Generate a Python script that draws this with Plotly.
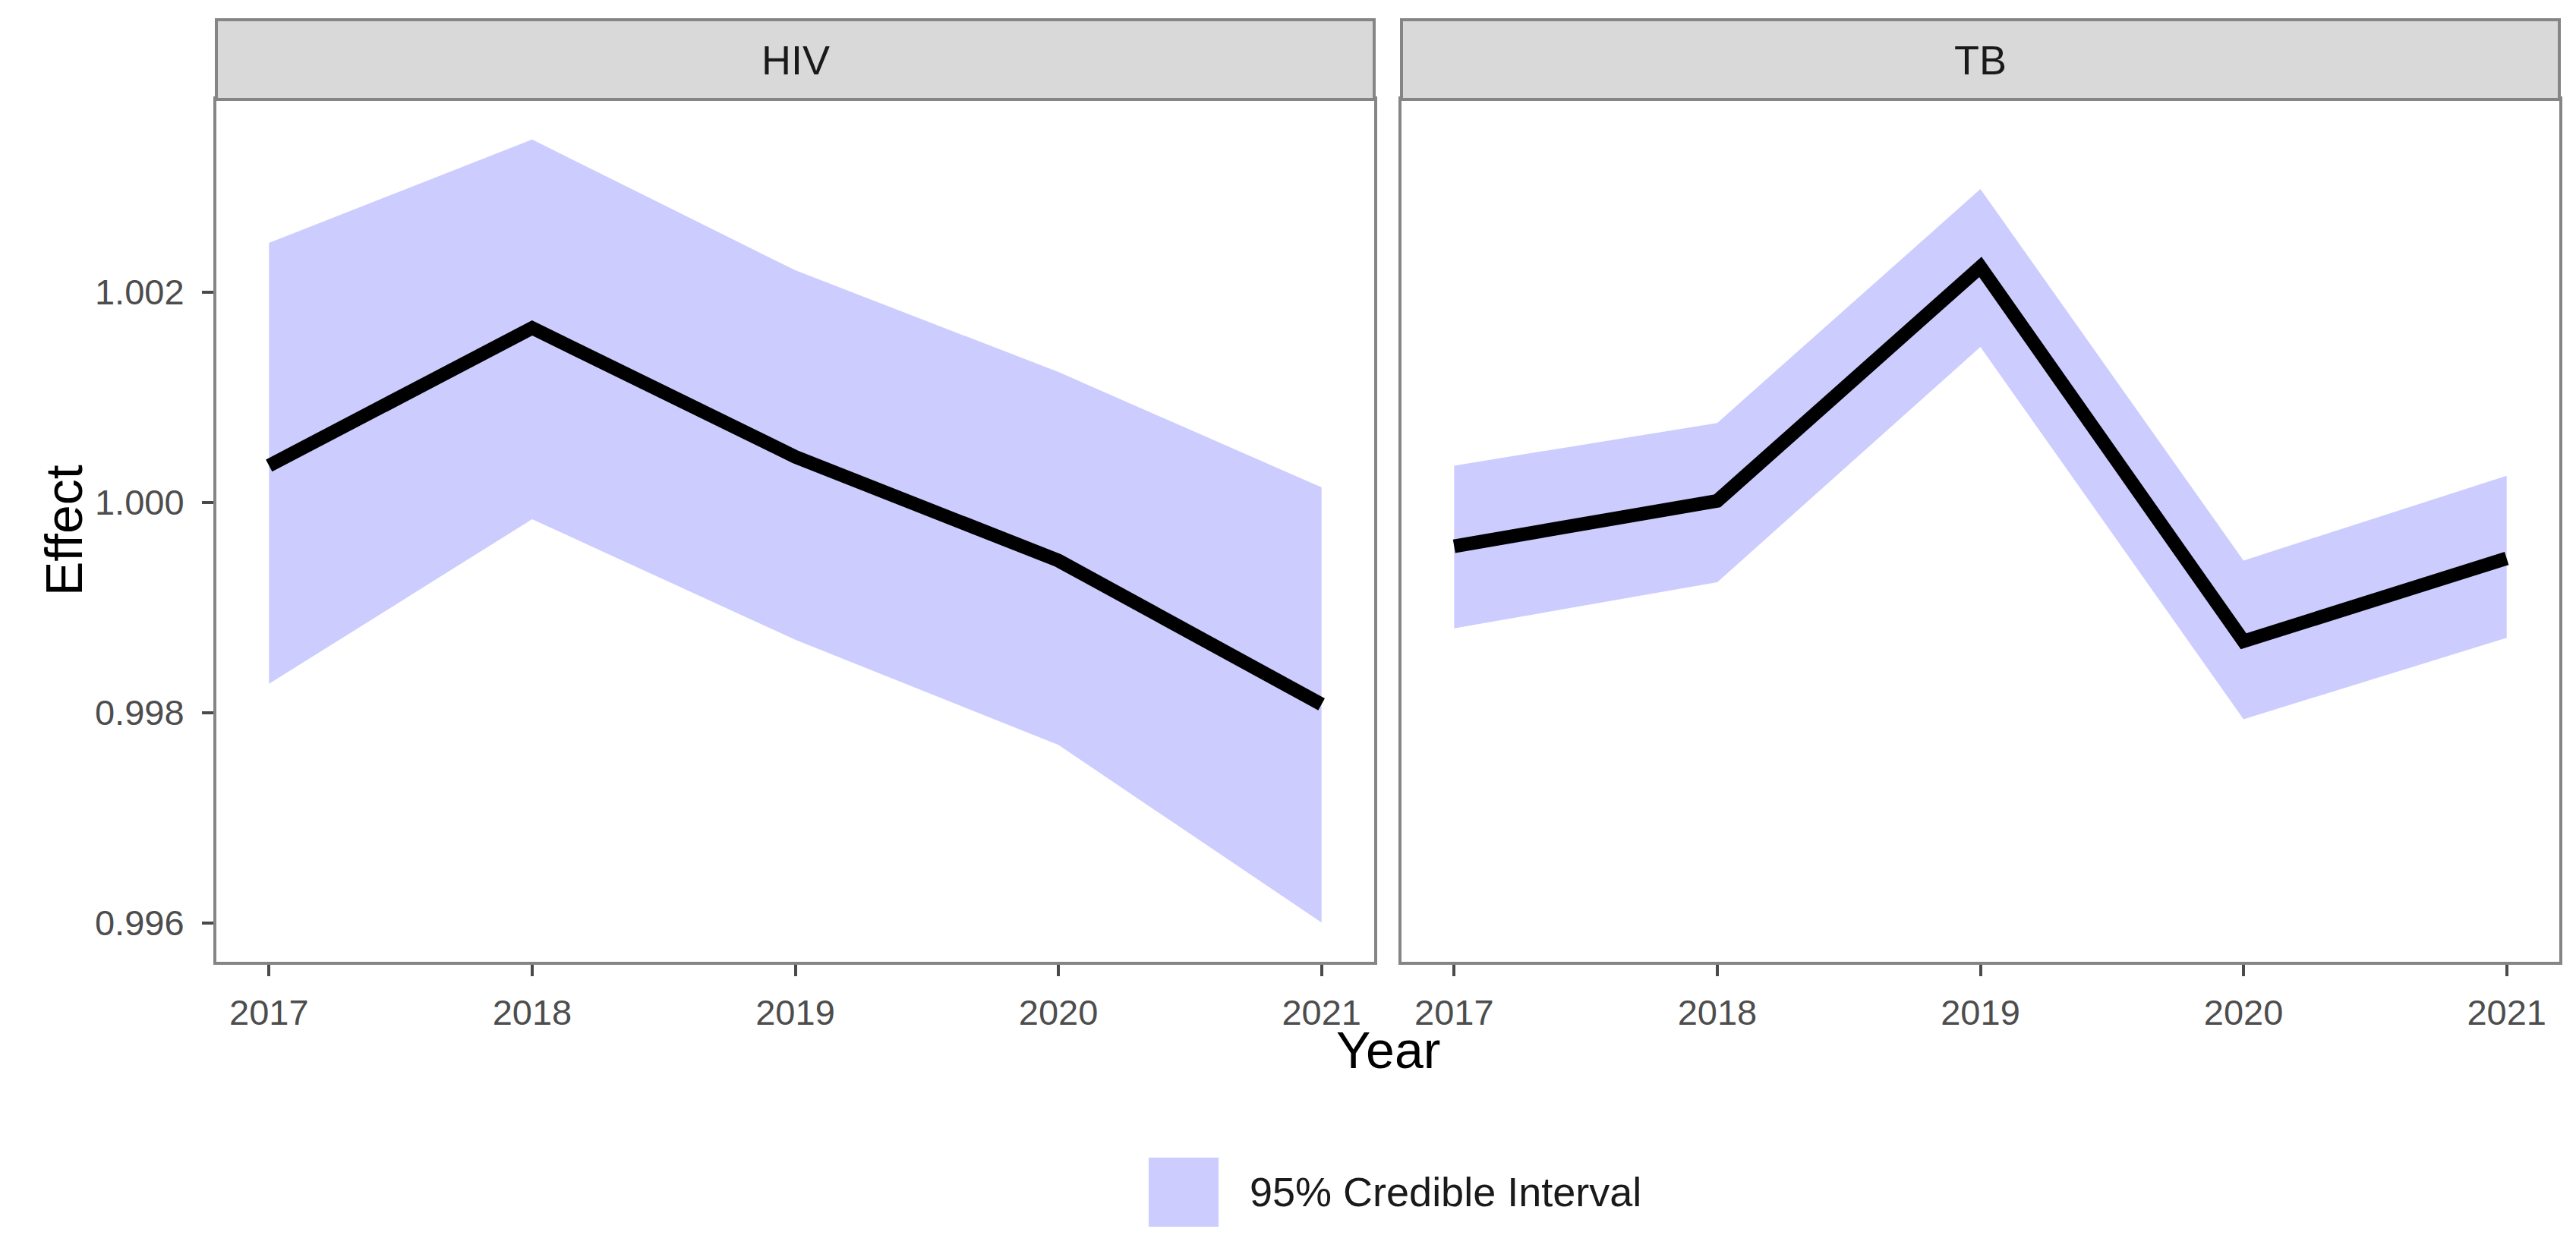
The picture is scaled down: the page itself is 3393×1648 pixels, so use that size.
import plotly.graph_objects as go

# ---- data ----
years = [2017, 2018, 2019, 2020, 2021]
panels = ["HIV", "TB"]

hiv_mean = [1.000348, 1.001657, 1.000432, 0.999445, 0.998078]
hiv_lower = [0.998273, 0.999839, 0.998692, 0.997692, 0.996003]
hiv_upper = [1.002466, 1.003449, 1.002205, 1.001238, 1.000142]

tb_mean = [0.999581, 1.000013, 1.002237, 0.998678, 0.999466]
tb_lower = [0.998801, 0.999239, 1.001476, 0.997937, 0.998711]
tb_upper = [1.000348, 1.000754, 1.002978, 0.999445, 1.000252]

y_tickvals = [0.996, 0.998, 1.000, 1.002]
y_ticktext = ["0.996", "0.998", "1.000", "1.002"]
legend_label = "95% Credible Interval"
x_title = "Year"
y_title = "Effect"

# ---- styles ----
W, H = 3393, 1648
FONT = "Liberation Sans, Arial, sans-serif"
RIBBON = "#CCCCFF"
BORDER = "#858585"
TICKC = "#4a4a4a"

dom_x = {"HIV": [277 / W, 1802 / W], "TB": [1838 / W, 3363 / W]}
dom_y = [1 - 1259 / H, 1 - 123 / H]
strip_top = 1 - 18 / H

series = {
    "HIV": (hiv_lower, hiv_upper, hiv_mean),
    "TB": (tb_lower, tb_upper, tb_mean),
}

fig = go.Figure()
for i, p in enumerate(panels):
    lo, up, mn = series[p]
    xa = "x" if i == 0 else "x2"
    ya = "y" if i == 0 else "y2"
    fig.add_trace(go.Scatter(x=years, y=lo, mode="lines", line=dict(width=0, color=RIBBON),
                             xaxis=xa, yaxis=ya, showlegend=False, hoverinfo="skip"))
    fig.add_trace(go.Scatter(x=years, y=up, mode="lines", line=dict(width=0, color=RIBBON),
                             fill="tonexty", fillcolor=RIBBON, xaxis=xa, yaxis=ya,
                             showlegend=False, name=legend_label))
    fig.add_trace(go.Scatter(x=years, y=mn, mode="lines", line=dict(width=18, color="black"),
                             xaxis=xa, yaxis=ya, showlegend=False))

xcommon = dict(range=[2016.8, 2021.2], tickvals=years, ticktext=[str(y) for y in years],
               showgrid=False, zeroline=False, showline=True, mirror=True,
               linecolor=BORDER, linewidth=4, ticks="outside", ticklen=15, tickwidth=4,
               tickcolor=TICKC, tickfont=dict(family=FONT, size=47, color="#4D4D4D"),
               ticklabelstandoff=8)
ycommon = dict(range=[0.99563, 1.00383], showgrid=False, zeroline=False, showline=True,
               mirror=True, linecolor=BORDER, linewidth=4)

fig.update_layout(
    width=W, height=H, margin=dict(l=0, r=0, t=0, b=0),
    paper_bgcolor="white", plot_bgcolor="white", showlegend=False,
    xaxis=dict(domain=dom_x["HIV"], anchor="y", **xcommon),
    xaxis2=dict(domain=dom_x["TB"], anchor="y2", **xcommon),
    yaxis=dict(domain=dom_y, anchor="x", tickvals=y_tickvals, ticktext=y_ticktext,
               ticks="outside", ticklen=15, tickwidth=4, tickcolor=TICKC,
               tickfont=dict(family=FONT, size=47, color="#4D4D4D"),
               ticklabelstandoff=14, **ycommon),
    yaxis2=dict(domain=dom_y, anchor="x2", matches="y", showticklabels=False, ticks="",
                **ycommon),
)

shapes = []
annotations = []
for p in panels:
    x0, x1 = dom_x[p]
    shapes.append(dict(type="rect", xref="paper", yref="paper", x0=x0, x1=x1,
                       y0=dom_y[1], y1=strip_top, fillcolor="#D9D9D9",
                       line=dict(color=BORDER, width=4), layer="above"))
    annotations.append(dict(text=p, xref="paper", yref="paper", x=(x0 + x1) / 2,
                            y=(dom_y[1] + strip_top) / 2, showarrow=False,
                            xanchor="center", yanchor="middle",
                            font=dict(family=FONT, size=54, color="#1A1A1A")))

# axis titles
annotations.append(dict(text=y_title, xref="paper", yref="paper", x=76 / W,
                        y=(dom_y[0] + dom_y[1]) / 2, textangle=-90, showarrow=False,
                        xanchor="center", yanchor="middle",
                        font=dict(family=FONT, size=68, color="black")))
annotations.append(dict(text=x_title, xref="paper", yref="paper", x=1820 / W,
                        y=1 - 1375 / H, showarrow=False, xanchor="center", yanchor="middle",
                        font=dict(family=FONT, size=68, color="black")))

# legend (key + label)
shapes.append(dict(type="rect", xref="paper", yref="paper", x0=1505 / W, x1=1597 / W,
                   y0=1 - 1608 / H, y1=1 - 1517 / H, fillcolor=RIBBON, line=dict(width=0)))
annotations.append(dict(text=legend_label, xref="paper", yref="paper", x=1636 / W,
                        y=1 - 1562 / H, showarrow=False, xanchor="left", yanchor="middle",
                        font=dict(family=FONT, size=54, color="#1A1A1A")))

fig.update_layout(shapes=shapes, annotations=annotations)
fig.write_html("out.html")
